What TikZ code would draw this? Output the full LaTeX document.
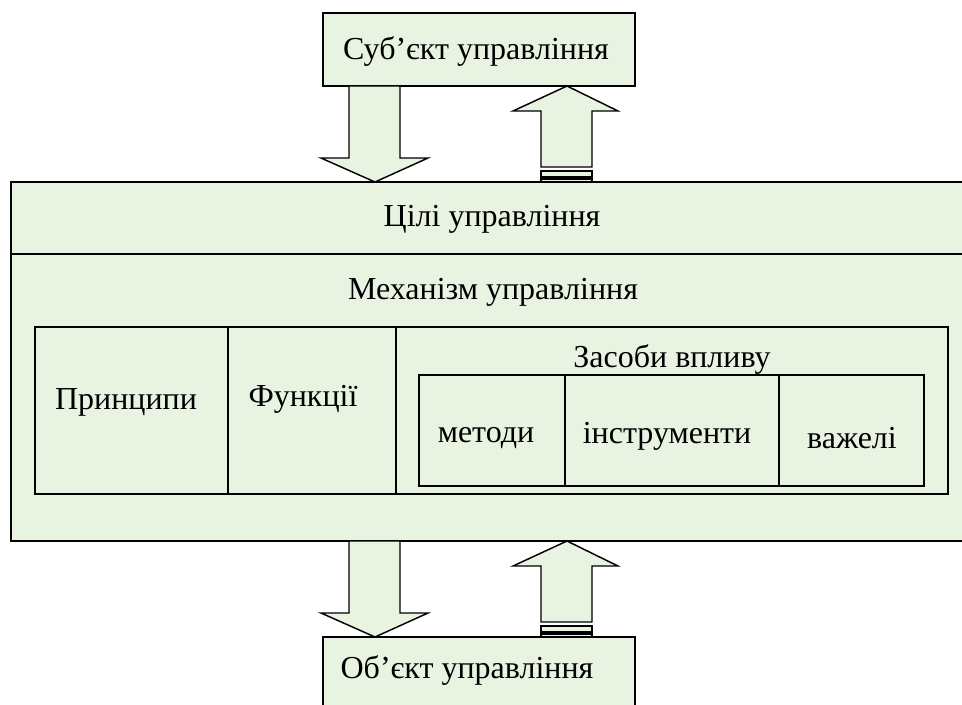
\documentclass[tikz,border=0pt]{standalone}
\usepackage{fontspec}
\setmainfont{Liberation Serif}
\definecolor{boxfill}{RGB}{233,243,226}
\tikzset{every picture/.style={line width=0.75pt}}
\tikzset{
  box/.style={draw=black, line width=1.1pt, fill=boxfill},
  lbl/.style={font=\rmfamily\fontsize{24}{28}\selectfont, inner sep=0pt}
}
\begin{document}
\begin{tikzpicture}[x=0.75pt,y=0.75pt,yscale=-1,xscale=1]
	\useasboundingbox (0,0) rectangle (962,704);
	\clip (0,0) rectangle (962,704);

	%Shape: Rectangle (subject)
	\draw [box] (323,13) rectangle (635,86);
	\node [lbl] (subj) at (476,51) {Суб’єкт управління};

	%Shape: Rectangle (main)
	\draw [box] (11,182) rectangle (975,541);
	\draw [box] (11,254) -- (975,254);
	\node [lbl] (goals) at (492,219) {Цілі управління};
	\node [lbl] (mech) at (493,292) {Механізм управління};

	%Shape: Rectangle (row)
	\draw [box] (35,327) rectangle (948,494);
	\draw [box] (228,327) -- (228,494);
	\draw [box] (396,327) -- (396,494);
	\node [lbl] (princ) at (126,402) {Принципи};
	\node [lbl] (func) at (303,399) {Функції};
	\node [lbl] (means) at (672,359) {Засоби впливу};

	%Shape: Rectangle (means)
	\draw [box] (419,375) rectangle (924,486);
	\draw [box] (565,375) -- (565,486);
	\draw [box] (779,375) -- (779,486);
	\node [lbl] (meth) at (486,438) {методи};
	\node [lbl] (tool) at (667,436) {інструменти};
	\node [lbl] (lever) at (852,438) {важелі};

	%Shape: Rectangle (object)
	\draw [box] (323,637) rectangle (635,720);
	\node [lbl] (obj) at (467,670) {Об’єкт управління};

	%Down Arrow (top)
	\draw [box, line join=miter] (349,86) -- (400,86) -- (400,158) -- (428,158) -- (375,182) -- (321,158) -- (349,158) -- cycle ;
	%Striped Up Arrow (top)
	\draw [box, line join=miter] (541,167) -- (541,111) -- (513,111) -- (567,86) -- (618,111) -- (592,111) -- (592,167) -- cycle ;
	\draw [box] (541,171) rectangle (592,177);
	\draw [box] (541,179) rectangle (592,182);

	%Down Arrow (bottom)
	\draw [box, line join=miter] (349,541) -- (400,541) -- (400,613) -- (428,613) -- (375,637) -- (321,613) -- (349,613) -- cycle ;
	%Striped Up Arrow (bottom)
	\draw [box, line join=miter] (541,622) -- (541,566) -- (513,566) -- (567,541) -- (618,566) -- (592,566) -- (592,622) -- cycle ;
	\draw [box] (541,626) rectangle (592,632);
	\draw [box] (541,634) rectangle (592,637);

\end{tikzpicture}
\end{document}
